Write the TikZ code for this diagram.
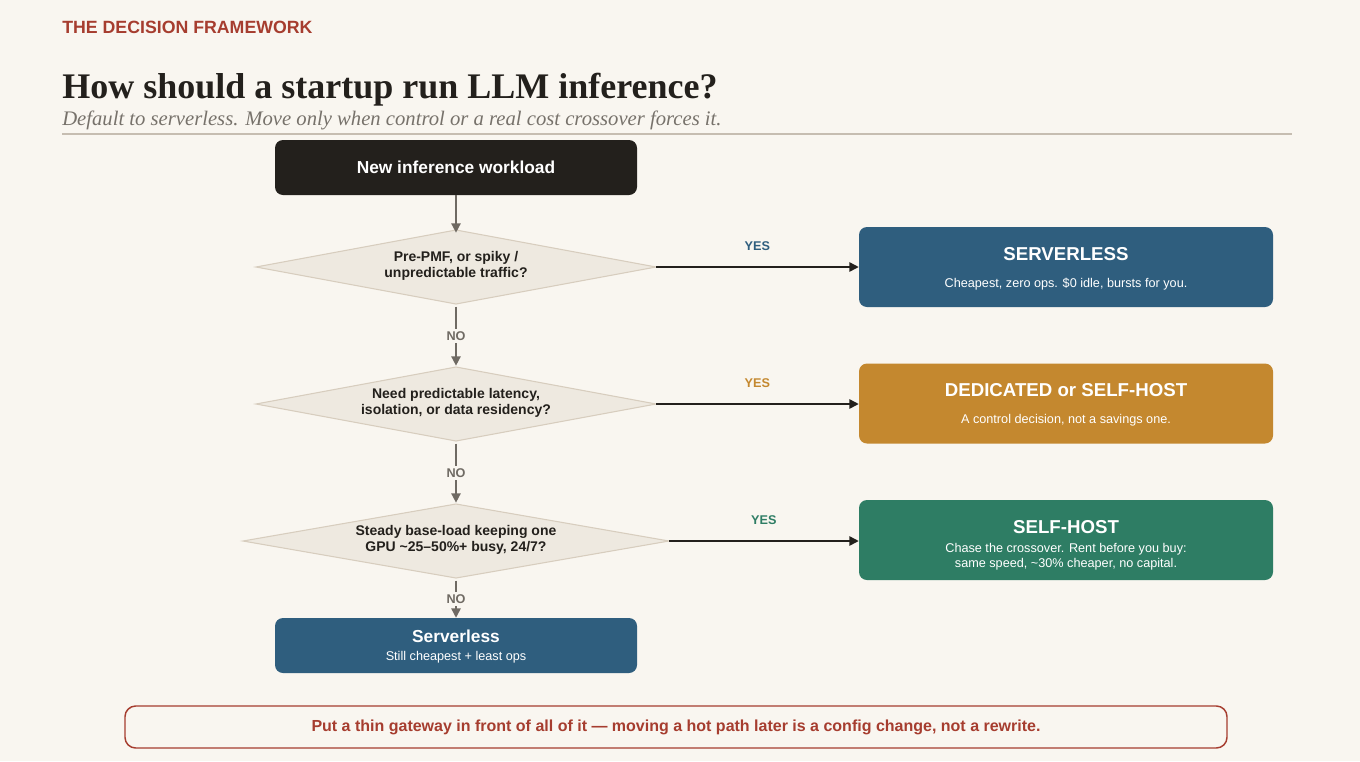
\documentclass[tikz,border=0pt]{standalone}
\usepackage{fontspec}
\setmainfont{Liberation Sans}
\newfontfamily\serifft{Liberation Serif}
\usetikzlibrary{arrows.meta}
\definecolor{bg}{HTML}{F9F6F0}
\definecolor{dark}{HTML}{23201C}
\definecolor{cblue}{HTML}{2F5E7E}
\definecolor{cgold}{HTML}{C4882F}
\definecolor{cgreen}{HTML}{2E7D64}
\definecolor{cred}{HTML}{A63D2F}
\definecolor{dfill}{HTML}{EEE9E0}
\definecolor{dline}{HTML}{D7CDBE}
\definecolor{agray}{HTML}{6F6A63}
\definecolor{subg}{HTML}{77726B}
\tikzset{
  every node/.style={inner sep=0pt},
  box/.style={rounded corners=6pt,text=white,align=center},
  diashape/.style={fill=dfill,draw=dline,line width=0.8pt},
  dtext/.style={align=center,font=\bfseries\fontsize{10.5}{12.5}\selectfont,text=dark},
  varr/.style={draw=agray,line width=1.1pt,-{Triangle[length=7pt,width=7pt]}},
  harr/.style={draw=dark,line width=1.1pt,-{Triangle[length=7pt,width=7pt]}},
  lab/.style={font=\bfseries\fontsize{9.5}{11}\selectfont},
  nolab/.style={lab,text=agray,fill=bg,inner sep=2pt},
  btitle/.style={font=\bfseries\fontsize{14}{17}\selectfont},
  bsub/.style={font=\fontsize{9.5}{11.5}\selectfont}
}
\begin{document}
\begin{tikzpicture}[x=0.75pt,y=-0.75pt]
\fill[bg] (0,0) rectangle (1360,761);
\node[anchor=west,text=cred,font=\bfseries\fontsize{13.3}{15}\selectfont] (hdr) at (62,27) {THE DECISION FRAMEWORK};
\node[anchor=base west,text=dark,font=\serifft\bfseries\fontsize{27}{30}\selectfont] (title) at (62,98) {How should a startup run LLM inference?};
\node[anchor=base west,text=subg,font=\serifft\itshape\fontsize{15.5}{18}\selectfont] (subt) at (62,125) {Default to serverless. Move only when control or a real cost crossover forces it.};
\coordinate (r1) at (62,134); \coordinate (r2) at (1292,134);
\draw[dline!80!gray,line width=0.8pt] (r1) -- (r2);

\node[box,fill=dark,minimum width=362*0.75pt,minimum height=55*0.75pt,font=\bfseries\fontsize{13}{15}\selectfont] (start) at (456,167.5) {New inference workload};

% diamonds
\coordinate (d1t) at (456,230); \coordinate (d1b) at (456,304); \coordinate (d1l) at (256,267); \coordinate (d1r) at (656,267);
\coordinate (d2t) at (456,367); \coordinate (d2b) at (456,441); \coordinate (d2l) at (256,404); \coordinate (d2r) at (656,404);
\coordinate (d3t) at (456,504); \coordinate (d3b) at (456,578); \coordinate (d3l) at (243,541); \coordinate (d3r) at (669,541);
\draw[diashape] (d1t) -- (d1r) -- (d1b) -- (d1l) -- cycle;
\draw[diashape] (d2t) -- (d2r) -- (d2b) -- (d2l) -- cycle;
\draw[diashape] (d3t) -- (d3r) -- (d3b) -- (d3l) -- cycle;
\node[dtext] (d1) at (456,266) {Pre-PMF, or spiky /\\unpredictable traffic?};
\node[dtext] (d2) at (456,403) {Need predictable latency,\\isolation, or data residency?};
\node[dtext] (d3) at (456,540) {Steady base-load keeping one\\GPU \char"007E 25--50\%+ busy, 24/7?};

\node[box,fill=cblue,minimum width=414*0.75pt,minimum height=80*0.75pt] (b1) at (1066,267) {};
\node[btitle,text=white] (b1t) at (1066,254) {SERVERLESS};
\node[bsub,text=white] (b1s) at (1066,284) {Cheapest, zero ops. \$0 idle, bursts for you.};
\node[box,fill=cgold,minimum width=414*0.75pt,minimum height=80*0.75pt] (b2) at (1066,403.5) {};
\node[btitle,text=white] (b2t) at (1066,390) {DEDICATED or SELF-HOST};
\node[bsub,text=white] (b2s) at (1066,420) {A control decision, not a savings one.};
\node[box,fill=cgreen,minimum width=414*0.75pt,minimum height=80*0.75pt] (b3) at (1066,540) {};
\node[btitle,text=white] (b3t) at (1066,527) {SELF-HOST};
\node[bsub,text=white,align=center] (b3s) at (1066,557) {Chase the crossover. Rent before you buy:\\same speed, \char"007E 30\% cheaper, no capital.};

\node[box,fill=cblue,minimum width=362*0.75pt,minimum height=55*0.75pt] (end) at (456,645.5) {};
\node[font=\bfseries\fontsize{13}{15}\selectfont,text=white] (endt) at (456,636) {Serverless};
\node[bsub,text=white] (ends) at (456,657) {Still cheapest + least ops};

\node[draw=cred,line width=1.1pt,rounded corners=8pt,minimum width=1102*0.75pt,minimum height=42*0.75pt,text=cred,font=\bfseries\fontsize{12}{14}\selectfont] (banner) at (676,727) {Put a thin gateway in front of all of it --- moving a hot path later is a config change, not a rewrite.};

\draw[varr] (start) -- ([yshift=-2pt]d1t);
\draw[varr] ([yshift=-2pt]d1b) -- node[nolab] {NO} ([yshift=1pt]d2t);
\draw[varr] ([yshift=-2pt]d2b) -- node[nolab] {NO} ([yshift=1pt]d3t);
\draw[varr] ([yshift=-2pt]d3b) -- node[nolab] {NO} (end);
\draw[harr] (d1r) -- node[lab,text=cblue,above=12pt] {YES} (b1.west|-d1r);
\draw[harr] (d2r) -- node[lab,text=cgold,above=12pt] {YES} (b2.west|-d2r);
\draw[harr] (d3r) -- node[lab,text=cgreen,above=12pt] {YES} (b3.west|-d3r);
\end{tikzpicture}
\end{document}
